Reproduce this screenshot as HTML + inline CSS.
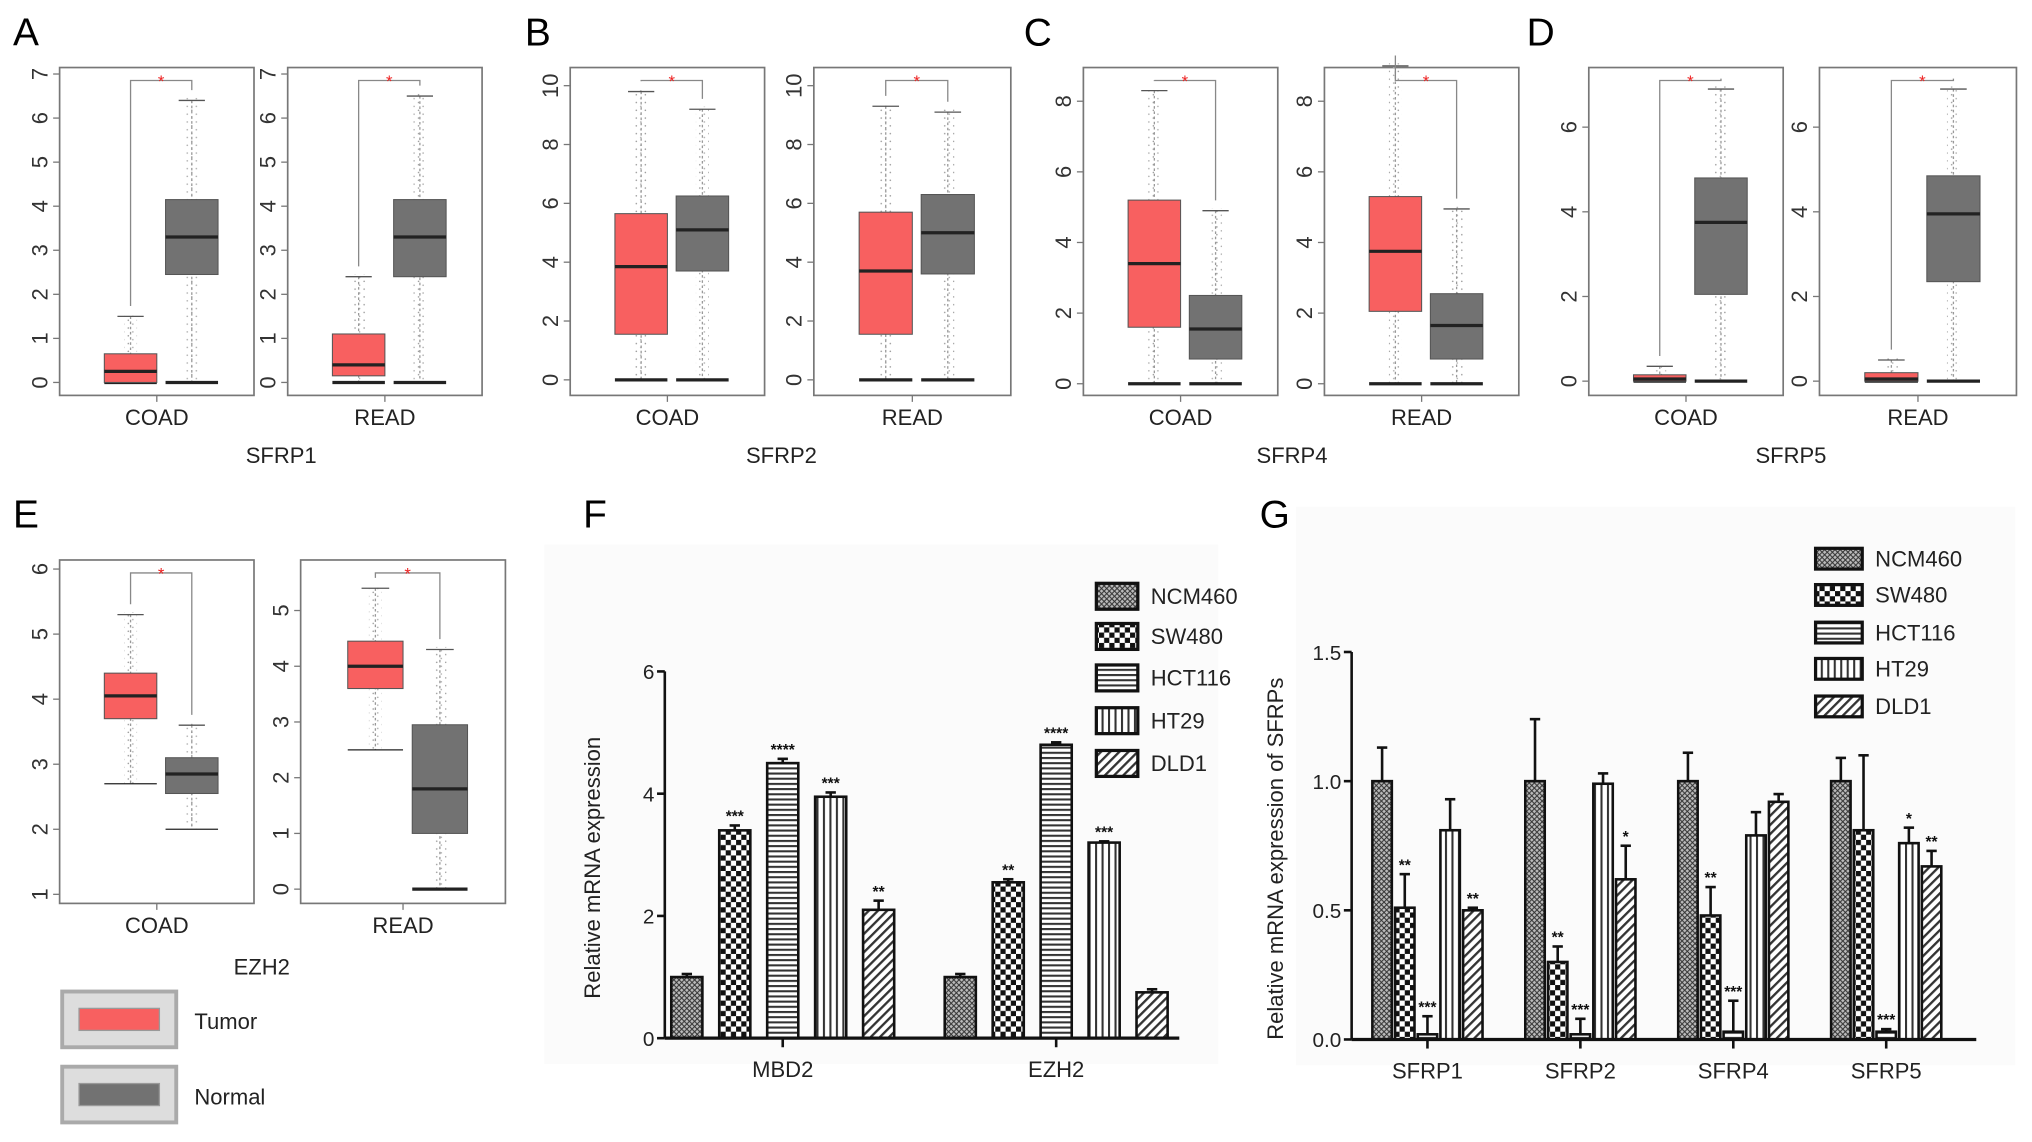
<!DOCTYPE html>
<html><head><meta charset="utf-8"><style>
html,body{margin:0;padding:0;background:#fff;}
svg{display:block;font-family:"Liberation Sans",Arial,sans-serif;}
</style></head><body>
<svg id="fig" width="2032" height="1142" viewBox="0 0 1568 881" xmlns="http://www.w3.org/2000/svg">
<defs>
<pattern id="pNCM" width="4" height="4" patternUnits="userSpaceOnUse"><rect width="4" height="4" fill="#bbb"/><path d="M0,0L4,4M4,0L0,4" stroke="#333" stroke-width="0.8"/></pattern>
<pattern id="pSW" width="8" height="8" patternUnits="userSpaceOnUse"><rect width="8" height="8" fill="#fff"/><rect width="4" height="4" fill="#111"/><rect x="4" y="4" width="4" height="4" fill="#111"/></pattern>
<pattern id="pHCT" width="4" height="4" patternUnits="userSpaceOnUse"><rect width="4" height="4" fill="#fff"/><rect y="0" width="4" height="1.6" fill="#333"/></pattern>
<pattern id="pHT" width="5" height="5" patternUnits="userSpaceOnUse"><rect width="5" height="5" fill="#fff"/><rect x="0" width="1.6" height="5" fill="#333"/></pattern>
<pattern id="pDLD" width="5" height="5" patternUnits="userSpaceOnUse" patternTransform="rotate(45)"><rect width="5" height="5" fill="#fff"/><rect width="1.8" height="5" fill="#333"/></pattern>
<pattern id="pDots" width="7" height="6" patternUnits="userSpaceOnUse"><circle cx="1" cy="1" r="0.6" fill="#999"/><circle cx="4.5" cy="4" r="0.6" fill="#aaa"/></pattern>
</defs>
<g id="root"></g>
</svg>
<script>
// ---------- Box plot data (A-E) ----------
const boxPanels = ["A-COAD","A-READ","B-COAD","B-READ","C-COAD","C-READ","D-COAD","D-READ","E-COAD","E-READ"];
const tumorQ1  = [0,   0.15,1.55,1.55,1.6, 2.05,0,   0,   3.7, 3.6];
const tumorMed = [0.25,0.4, 3.85,3.7, 3.4, 3.75,0.05,0.05,4.05,4.0];
const tumorQ3  = [0.65,1.1, 5.65,5.7, 5.2, 5.3, 0.15,0.2, 4.4, 4.45];
const tumorLo  = [0,   0,   0,   0,   0,   0,   0,   0,   2.7, 2.5];
const tumorHi  = [1.5, 2.4, 9.8, 9.3, 8.3, 9.0, 0.35,0.5, 5.3, 5.4];
const normQ1   = [2.45,2.4, 3.7, 3.6, 0.7, 0.7, 2.05,2.35,2.55,1.0];
const normMed  = [3.3, 3.3, 5.1, 5.0, 1.55,1.65,3.75,3.95,2.85,1.8];
const normQ3   = [4.15,4.15,6.25,6.3, 2.5, 2.55,4.8, 4.85,3.1, 2.95];
const normLo   = [0,   0,   0,   0,   0,   0,   0,   0,   2.0, 0];
const normHi   = [6.4, 6.5, 9.2, 9.1, 4.9, 4.95,6.9, 6.9, 3.6, 4.3];
const boxTicks = [[0,1,2,3,4,5,6,7],[0,1,2,3,4,5,6,7],[0,2,4,6,8,10],[0,2,4,6,8,10],[0,2,4,6,8],[0,2,4,6,8],[0,2,4,6],[0,2,4,6],[1,2,3,4,5,6],[0,1,2,3,4,5]];
const boxCats = ["COAD","READ","COAD","READ","COAD","READ","COAD","READ","COAD","READ"];
// ---------- Panel F ----------
const fGenes = ["MBD2","EZH2"];
const cellLines = ["NCM460","SW480","HCT116","HT29","DLD1"];
const fMBD2 = [1.0,3.4,4.5,3.95,2.1];
const fEZH2 = [1.0,2.55,4.8,3.2,0.75];
const fErrMBD2 = [0.05,0.08,0.07,0.07,0.15];
const fErrEZH2 = [0.05,0.05,0.04,0.02,0.05];
const fStarsMBD2 = ["","***","****","***","**"];
const fStarsEZH2 = ["","**","****","***",""];
const fTicks = [0,2,4,6];
// ---------- Panel G ----------
const gGenes = ["SFRP1","SFRP2","SFRP4","SFRP5"];
const gSFRP1 = [1.0,0.51,0.02,0.81,0.5];
const gSFRP2 = [1.0,0.3,0.02,0.99,0.62];
const gSFRP4 = [1.0,0.48,0.03,0.79,0.92];
const gSFRP5 = [1.0,0.81,0.03,0.76,0.67];
const gErr1 = [0.13,0.13,0.07,0.12,0.01];
const gErr2 = [0.24,0.06,0.06,0.04,0.13];
const gErr4 = [0.11,0.11,0.12,0.09,0.03];
const gErr5 = [0.09,0.29,0.01,0.06,0.06];
const gStars1 = ["","**","***","","**"];
const gStars2 = ["","**","***","","*"];
const gStars4 = ["","**","***","",""];
const gStars5 = ["","","***","*","**"];
const gTicks = [0.0,0.5,1.0,1.5];

const NS="http://www.w3.org/2000/svg";
const root=document.getElementById('root');
function mk(tag,attrs,parent,txt){const e=document.createElementNS(NS,tag);for(const k in attrs)e.setAttribute(k,attrs[k]);if(txt!==undefined)e.textContent=txt;(parent||root).appendChild(e);return e;}

const letters=[["A",10,35],["B",405,35],["C",790,35],["D",1178,35],["E",10,407],["F",450,407],["G",972,407]];
letters.forEach(l=>{const t=mk('text',{x:l[1],y:l[2],'font-size':30},root,l[0]);

});

const boxLayout=[
 {x:46,w:150,top:52,bot:305,y0:295,yT:57,vT:7},
 {x:222,w:150,top:52,bot:305,y0:295,yT:57,vT:7},
 {x:440,w:150,top:52,bot:305,y0:293,yT:66,vT:10},
 {x:628,w:152,top:52,bot:305,y0:293,yT:66,vT:10},
 {x:836,w:150,top:52,bot:305,y0:296,yT:78,vT:8},
 {x:1022,w:150,top:52,bot:305,y0:296,yT:78,vT:8},
 {x:1226,w:150,top:52,bot:305,y0:294,yT:98,vT:6},
 {x:1404,w:152,top:52,bot:305,y0:294,yT:98,vT:6},
 {x:46,w:150,top:432,bot:697,y0:690,yT:439,vT:6,v0:1},
 {x:232,w:158,top:432,bot:697,y0:686,yT:471,vT:5}
];
boxPanels.forEach((name,i)=>{
 const L=boxLayout[i];const v0=L.v0||0;
 const ys=v=>L.y0-(v-v0)*(L.y0-L.yT)/(L.vT-v0);
 const g=mk('g',{});
 
 
 const fr=mk('rect',{x:L.x,y:L.top,width:L.w,height:L.bot-L.top,fill:'#fff',stroke:'#777','stroke-width':1.3},g);
 
 
 boxTicks[i].forEach(t=>{const y=ys(t);
  mk('line',{x1:L.x-5,x2:L.x,y1:y,y2:y,stroke:'#777'},g);
  const tx=mk('text',{x:L.x-14,y:y,'font-size':17,fill:'#333','text-anchor':'middle',transform:`rotate(-90 ${L.x-14} ${y})`,'dominant-baseline':'middle'},g,String(t));
  
  
 });
 const cx=L.x+L.w/2;
 mk('line',{x1:cx,x2:cx,y1:L.bot,y2:L.bot+5,stroke:'#777'},g);
 const xl=mk('text',{x:cx,y:L.bot+23,'font-size':17,fill:'#222','text-anchor':'middle'},g,boxCats[i]);
 
 
 const tc=L.x+L.w*0.365, nc=L.x+L.w*0.68, hw=L.w*0.135;
 const sets=[[tc,tumorQ1[i],tumorMed[i],tumorQ3[i],tumorLo[i],tumorHi[i],'#f86060','tumor'],[nc,normQ1[i],normMed[i],normQ3[i],normLo[i],normHi[i],'#727272','normal']];
 sets.forEach(s=>{
  const [c,q1,md,q3,lo,hi,col,nm]=s;
  const dots=mk('rect',{x:c-5,y:ys(hi)-2,width:10,height:ys(lo)-ys(hi)+2,fill:'url(#pDots)'},g);
  
  
  mk('line',{x1:c,x2:c,y1:ys(hi),y2:ys(lo),stroke:'#999','stroke-dasharray':'2,2'},g);
  mk('line',{x1:c-hw*0.5,x2:c+hw*0.5,y1:ys(hi),y2:ys(hi),stroke:'#555'},g);
  mk('line',{x1:c-hw,x2:c+hw,y1:ys(lo),y2:ys(lo),stroke:'#222','stroke-width':lo===0?2.5:1},g);
  const b=mk('rect',{x:c-hw,y:ys(q3),width:2*hw,height:Math.max(1,ys(q1)-ys(q3)),fill:col,stroke:'#555','stroke-width':0.8},g);
  
  
  mk('line',{x1:c-hw,x2:c+hw,y1:ys(md),y2:ys(md),stroke:'#222','stroke-width':2.5},g);
 });
 const by=L.top+10;
 mk('path',{d:`M${tc},${ys(tumorHi[i])-8}V${by}H${nc}V${ys(normHi[i])-8}`,fill:'none',stroke:'#888','stroke-width':1},g);
 const st=mk('text',{x:(tc+nc)/2,y:by+5,'font-size':13,fill:'#e22','text-anchor':'middle'},g,'*');
 
 
});
[["SFRP1",217,357],["SFRP2",603,357],["SFRP4",997,357],["SFRP5",1382,357],["EZH2",202,752]].forEach(a=>{
 const t=mk('text',{x:a[1],y:a[2],'font-size':17,fill:'#222','text-anchor':'middle'},root,a[0]);
 
 
});
[["Tumor","#f86060",765],["Normal","#727272",823]].forEach(a=>{
 const g=mk('g',{});
 
 
 mk('rect',{x:48,y:a[2],width:88,height:43,fill:'#ddd',stroke:'#aaa','stroke-width':3},g);
 mk('rect',{x:61,y:a[2]+13,width:62,height:17,fill:a[1],stroke:'#999'},g);
 mk('text',{x:150,y:a[2]+29,'font-size':17,fill:'#222'},g,a[0]);
});

const pats=['url(#pNCM)','url(#pSW)','url(#pHCT)','url(#pHT)','url(#pDLD)'];
function barChart(cfg){
 const {name,ax,y0,yTop,vTop,xEnd,ticks,groups,vals,errs,stars,gStart,gPitch,bPitch,bw,tickFmt,ylabel,ylx,legX,legY,legW,legH,fs,bgX}=cfg;
 const ys=v=>y0-v*(y0-yTop)/vTop;
 const g=mk('g',{});
 
 
 mk('rect',{x:bgX,y:legY[0]-40,width:xEnd-bgX+30,height:y0-legY[0]+60,fill:'#fbfbfb'},g);
 vals.forEach((arr,gi)=>{
  arr.forEach((v,bi)=>{
   const x=gStart+gi*gPitch+bi*bPitch;const e=errs[gi][bi];
   mk('line',{x1:x+bw/2,x2:x+bw/2,y1:ys(v),y2:ys(v+e),stroke:'#111','stroke-width':2},g);
   mk('line',{x1:x+bw/2-4,x2:x+bw/2+4,y1:ys(v+e),y2:ys(v+e),stroke:'#111','stroke-width':2},g);
   const r=mk('rect',{x:x,y:ys(v),width:bw,height:Math.max(0.5,y0-ys(v)),fill:pats[bi],stroke:'#111','stroke-width':2},g);
   
   
   if(stars[gi][bi]){const s=mk('text',{x:x+bw/2,y:ys(v+e)-3,'font-size':12,'font-weight':'bold','text-anchor':'middle',fill:'#111'},g,stars[gi][bi]);
    
    }
  });
  const cx=gStart+gi*gPitch+2*bPitch+bw/2;
  mk('line',{x1:cx,x2:cx,y1:y0,y2:y0+7,stroke:'#111','stroke-width':2},g);
  const t=mk('text',{x:cx,y:y0+30,'font-size':17,'text-anchor':'middle',fill:'#222'},g,groups[gi]);
  
  
 });
 mk('line',{x1:ax,x2:ax,y1:ys(vTop),y2:y0,stroke:'#111','stroke-width':2},g);
 mk('line',{x1:ax,x2:xEnd,y1:y0,y2:y0,stroke:'#111','stroke-width':2.5},g);
 ticks.forEach(t=>{const y=ys(t);mk('line',{x1:ax-6,x2:ax,y1:y,y2:y,stroke:'#111','stroke-width':2},g);
  const l=mk('text',{x:ax-8,y:y+6,'font-size':16,'text-anchor':'end',fill:'#222'},g,tickFmt(t));
  
  });
 const cy=(y0+ys(vTop))/2+10;
 const yl=mk('text',{x:ylx,y:cy,'font-size':fs,'text-anchor':'middle',fill:'#222',transform:`rotate(-90 ${ylx} ${cy})`},g,ylabel);
 
 
 cellLines.forEach((c,i)=>{
  const lg=mk('g',{},g);
  
  
  mk('rect',{x:legX,y:legY[i]-legH/2,width:legW,height:legH,fill:pats[i],stroke:'#111','stroke-width':2.5},lg);
  mk('text',{x:legX+legW+10,y:legY[i]+6,'font-size':17,fill:'#222'},lg,c);
 });
}
barChart({name:'bar-chart-f',ax:513,y0:801,yTop:518,vTop:6,xEnd:910,ticks:fTicks,groups:fGenes,vals:[fMBD2,fEZH2],errs:[fErrMBD2,fErrEZH2],stars:[fStarsMBD2,fStarsEZH2],gStart:518,gPitch:211,bPitch:37,bw:24,tickFmt:t=>String(t),ylabel:'Relative mRNA expression',ylx:463,legX:846,legY:[460,491,523,556,589],legW:32,legH:20,fs:17,bgX:420});
barChart({name:'bar-chart-g',ax:1043,y0:802,yTop:503,vTop:1.5,xEnd:1525,ticks:gTicks,groups:gGenes,vals:[gSFRP1,gSFRP2,gSFRP4,gSFRP5],errs:[gErr1,gErr2,gErr4,gErr5],stars:[gStars1,gStars2,gStars4,gStars5],gStart:1059,gPitch:118,bPitch:17.5,bw:15,tickFmt:t=>t.toFixed(1),ylabel:'Relative mRNA expression of SFRPs',ylx:990,legX:1401,legY:[431,459,488,516,545],legW:36,legH:16,fs:17,bgX:1000});
</script>
</body></html>
